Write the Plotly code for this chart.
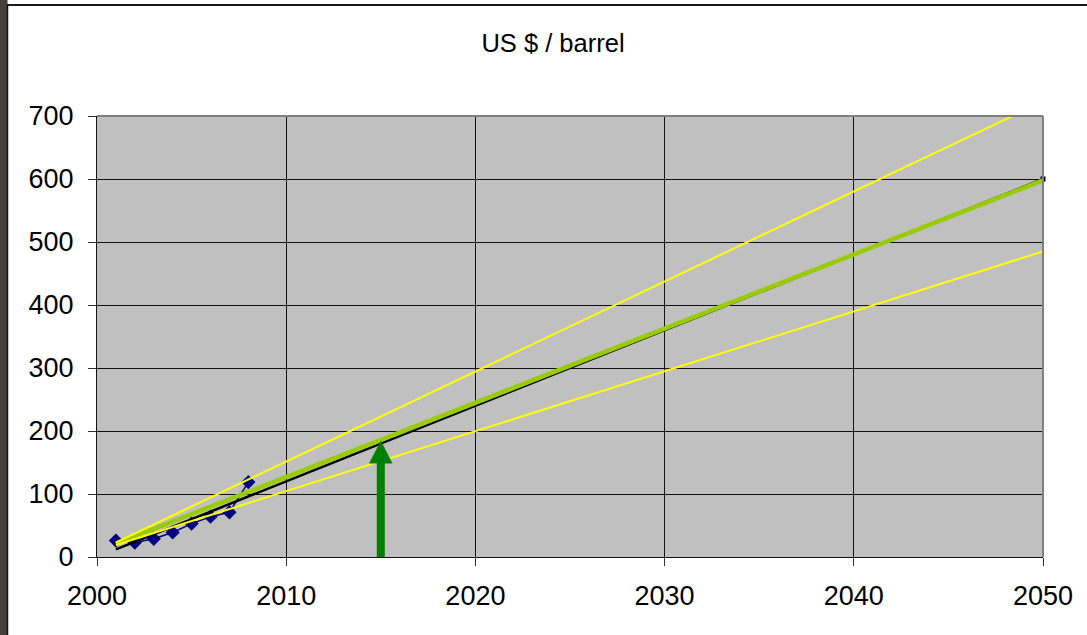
import plotly.graph_objects as go

# ---- data ----
years_actual = [2001, 2002, 2003, 2004, 2005, 2006, 2007, 2008]
price_actual = [26, 23, 29, 39, 53, 64, 71, 119]

trend_years = [2001, 2050]
trend_black = [12, 600]
trend_green = [21, 598]
trend_yellow_high = [23, 723]
trend_yellow_low = [19, 485]

arrow_year = 2015
arrow_value = 184

x_ticks = [2000, 2010, 2020, 2030, 2040, 2050]
y_ticks = [0, 100, 200, 300, 400, 500, 600, 700]

title_text = "US $ / barrel"

# ---- figure ----
W, H = 1087, 635
L, R, T, B = 97, 44, 116, 78
FONT = "Liberation Sans, Arial, sans-serif"

fig = go.Figure()

fig.add_trace(go.Scatter(
    x=years_actual, y=price_actual, mode="lines+markers",
    line=dict(color="#000080", width=1.5),
    marker=dict(symbol="diamond", size=11, color="#000080"),
    hoverinfo="skip"))

fig.add_trace(go.Scatter(
    x=trend_years, y=trend_black, mode="lines",
    line=dict(color="#000000", width=2.5), hoverinfo="skip"))
fig.add_trace(go.Scatter(
    x=trend_years[-1:], y=trend_black[-1:], mode="markers",
    marker=dict(symbol="square", size=5, color="#000000"), cliponaxis=False,
    hoverinfo="skip"))

fig.add_trace(go.Scatter(
    x=trend_years, y=trend_green, mode="lines",
    line=dict(color="#99CC00", width=4.5), hoverinfo="skip"))

fig.add_trace(go.Scatter(
    x=trend_years, y=trend_yellow_high, mode="lines",
    line=dict(color="#FFFF00", width=2), hoverinfo="skip"))
fig.add_trace(go.Scatter(
    x=trend_years, y=trend_yellow_low, mode="lines",
    line=dict(color="#FFFF00", width=2), hoverinfo="skip"))

# arrow (shaft + head)
head_len = 35      # in value units
head_half = 0.6    # in years
fig.add_trace(go.Scatter(
    x=[arrow_year, arrow_year], y=[0, arrow_value - head_len + 2], mode="lines",
    line=dict(color="#008000", width=8), hoverinfo="skip"))
fig.add_trace(go.Scatter(
    x=[arrow_year - head_half, arrow_year + head_half, arrow_year, arrow_year - head_half],
    y=[arrow_value - head_len, arrow_value - head_len, arrow_value, arrow_value - head_len],
    mode="lines", fill="toself", fillcolor="#008000",
    line=dict(color="#008000", width=0.5), hoverinfo="skip"))

pw = W - L - R
ph = H - T - B

def px_x(p):
    return (p - L) / pw

def px_y(p):
    return (H - B - p) / ph

shapes = [
    # plot area border (top/right gray)
    dict(type="line", xref="paper", yref="paper", x0=0, x1=1, y0=1, y1=1,
         line=dict(color="#808080", width=2), layer="above"),
    dict(type="line", xref="paper", yref="paper", x0=1, x1=1, y0=0, y1=1,
         line=dict(color="#808080", width=2), layer="above"),
    # left dark strip of the slide
    dict(type="rect", xref="paper", yref="paper", x0=px_x(0), x1=px_x(7.5),
         y0=px_y(H), y1=px_y(0), fillcolor="#453F39", line=dict(width=0)),
    dict(type="line", xref="paper", yref="paper", x0=px_x(7.5), x1=px_x(7.5),
         y0=px_y(H), y1=px_y(4), line=dict(color="#111111", width=1.5)),
    # top frame line
    dict(type="line", xref="paper", yref="paper", x0=px_x(7.5), x1=px_x(W),
         y0=px_y(5), y1=px_y(5), line=dict(color="#1a1a1a", width=2)),
]

axis_common = dict(
    showgrid=True, gridcolor="#111111", gridwidth=1,
    showline=True, linecolor="#111111", linewidth=1,
    ticks="outside", ticklen=8, tickcolor="#333333", tickwidth=1,
    tickfont=dict(family=FONT, size=27, color="#000000"),
    zeroline=False, fixedrange=True,
)

fig.update_layout(
    width=W, height=H,
    margin=dict(l=L, r=R, t=T, b=B, pad=0),
    paper_bgcolor="#FFFFFF",
    plot_bgcolor="#C0C0C0",
    showlegend=False,
    title=dict(text=title_text, x=553 / W, xanchor="center",
               y=1 - 43 / H, yanchor="middle",
               font=dict(family=FONT, size=25.5, color="#000000")),
    xaxis=dict(range=[2000, 2050], tickmode="array", tickvals=x_ticks,
               ticktext=[str(v) for v in x_ticks], ticklabelstandoff=7,
               **axis_common),
    yaxis=dict(range=[0, 700], tickmode="array", tickvals=y_ticks,
               ticktext=[str(v) for v in y_ticks], ticklabelstandoff=9,
               **axis_common),
    shapes=shapes,
)

fig.write_html("out.html")
